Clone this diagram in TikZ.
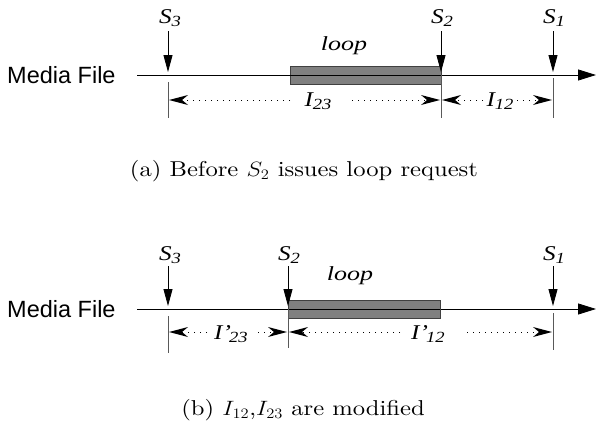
\documentclass[tikz,border=0pt]{standalone}
\usepackage{fontspec}
\usepackage{graphicx}
\usetikzlibrary{arrows.meta}
\newfontfamily\tms{Liberation Serif}
\newfontfamily\hlv{Liberation Sans}
\newfontfamily\capfont{lmroman10-regular.otf}
% wide Times labels with lowered, slightly smaller subscripts
\newcommand\wide[1]{\scalebox{1.2}[1]{#1}}
\newcommand\lbl[2]{\wide{\itshape #1\raisebox{-3pt}{\fontsize{15.5}{15.5}\selectfont #2}}}
\newcommand\plbl[2]{\wide{\itshape #1’\kern-1.5pt\raisebox{-3pt}{\fontsize{15.5}{15.5}\selectfont #2}}}
\begin{document}
\begin{tikzpicture}[x=1pt,y=-1pt,
  axis/.style={line width=0.8pt,-{Triangle[length=18pt,width=11pt]}},
  pointer/.style={line width=0.8pt,-{Triangle[length=17pt,width=9pt]}},
  tick/.style={line width=0.8pt,draw=black!65},
  dim/.style={line width=0.8pt,dash pattern=on 1pt off 5pt,
    -{Stealth[length=19pt,width=10pt,inset=6pt,line width=0pt]}},
  looprect/.style={fill=black!50,draw=black!75,line width=0.8pt},
  smark/.style={font=\tms\fontsize{21}{21}\selectfont,inner sep=1pt},
  loopword/.style={font=\tms\itshape\fontsize{20}{20}\selectfont,inner sep=1pt},
  media/.style={font=\hlv\fontsize{23.5}{23.5}\selectfont,inner sep=0pt,anchor=west},
  captext/.style={font=\capfont\fontsize{21.5}{24}\selectfont,inner sep=0pt}]
\path[use as bounding box] (0,0) rectangle (598,423);

% ---------- (a) before the loop request ----------
\node[media] (mfa) at (7,75) {Media File};
\coordinate (a0) at (137,75);
\coordinate (a1) at (596,75);
\draw[axis] (a0) -- (a1);
\node[looprect,minimum width=151pt,minimum height=18pt,inner sep=0pt,anchor=west] (loopa) at (290,75) {};
\draw[line width=0.8pt] (290,75) -- (441,75);
\node[loopword] at (344,46) (lpa) {\scalebox{1.3}[1]{loop}};

\node[smark] (s3a) at (170,18) {\lbl{S}{3}};
\node[smark] (s2a) at (442,18) {\lbl{S}{2}};
\node[smark] (s1a) at (554,18) {\lbl{S}{1}};
\coordinate (p3a) at (168,72);
\coordinate (p2a) at (441,72);
\coordinate (p1a) at (553,72);
\draw[pointer] (168,31) -- (p3a);
\draw[pointer] (441,31) -- (p2a);
\draw[pointer] (553,31) -- (p1a);

\coordinate (t3a) at (168,82);  \coordinate (b3a) at (168,118);
\coordinate (t2a) at (441,75);  \coordinate (b2a) at (441,118);
\coordinate (t1a) at (553,78);  \coordinate (b1a) at (553,118);
\draw[tick] (t3a) -- (b3a);
\draw[tick] (t2a) -- (b2a);
\draw[tick] (t1a) -- (b1a);

\node[smark] (i23) at (318,101) {\lbl{I}{23}};
\node[smark] (i12) at (500,101) {\lbl{I}{12}};
\coordinate (d3a) at (169,100);
\coordinate (d2l) at (440,100);
\coordinate (d2r) at (442,100);
\coordinate (d1a) at (552,100);
\draw[dim] (290,100) -- (d3a);
\draw[dim] (352,100) -- (d2l);
\draw[dim] (483,100) -- (d2r);
\draw[dim] (517,100) -- (d1a);

\node[captext] (capa) at (304,171) {\scalebox{1.145}[1]{(a) Before $S_2$ issues loop request}};

% ---------- (b) after the loop request ----------
\node[media] (mfb) at (7,309) {Media File};
\coordinate (c0) at (137,309);
\coordinate (c1) at (596,309);
\draw[axis] (c0) -- (c1);
\node[looprect,minimum width=152pt,minimum height=18pt,inner sep=0pt,anchor=west] (loopb) at (288,309) {};
\draw[line width=0.8pt] (288,309) -- (440,309);
\node[loopword] at (350,276) (lpb) {\scalebox{1.3}[1]{loop}};

\node[smark] (s3b) at (170,255) {\lbl{S}{3}};
\node[smark] (s2b) at (289,255) {\lbl{S}{2}};
\node[smark] (s1b) at (554,255) {\lbl{S}{1}};
\coordinate (p3b) at (168,306);
\coordinate (p2b) at (288,306);
\coordinate (p1b) at (553,306);
\draw[pointer] (168,266) -- (p3b);
\draw[pointer] (288,266) -- (p2b);
\draw[pointer] (553,266) -- (p1b);

\coordinate (t3b) at (168,316);  \coordinate (b3b) at (168,353);
\coordinate (t2b) at (288,309);  \coordinate (b2b) at (288,348);
\coordinate (t1b) at (553,313);  \coordinate (b1b) at (553,350);
\draw[tick] (t3b) -- (b3b);
\draw[tick] (t2b) -- (b2b);
\draw[tick] (t1b) -- (b1b);

\node[smark] (j23) at (231,334) {\plbl{I}{23}};
\node[smark] (j12) at (428,334) {\plbl{I}{12}};
\coordinate (e3b) at (169,332);
\coordinate (e2l) at (287,332);
\coordinate (e2r) at (289,332);
\coordinate (e1b) at (552,332);
\draw[dim] (207,332) -- (e3b);
\draw[dim] (258,332) -- (e2l);
\draw[dim] (400,332) -- (e2r);
\draw[dim] (467,332) -- (e1b);

\node[captext] (capb) at (303,410) {\scalebox{1.145}[1]{(b) $I_{12}$,$I_{23}$ are modified}};
\end{tikzpicture}
\end{document}
